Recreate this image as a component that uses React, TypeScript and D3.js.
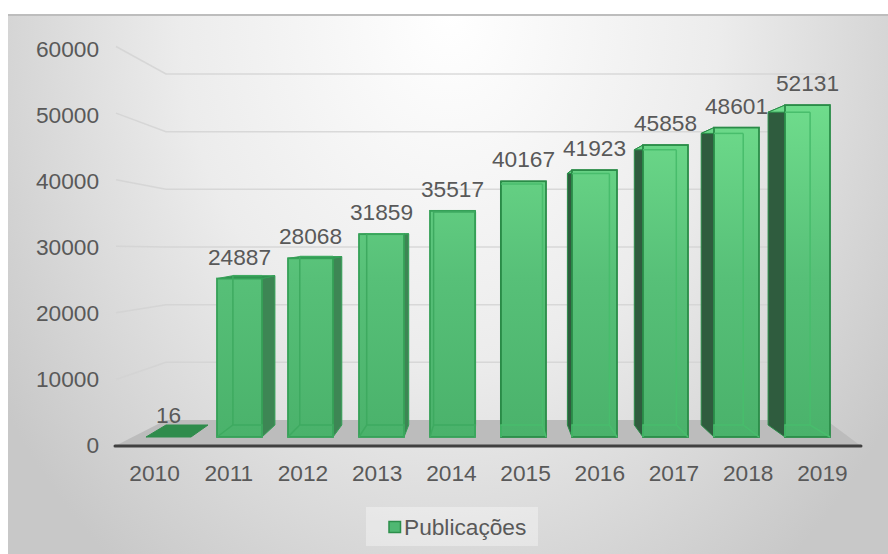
import React from "react";
import * as d3 from "d3";

const years = ["2010","2011","2012","2013","2014","2015","2016","2017","2018","2019"];
const publications = [16,24887,28068,31859,35517,40167,41923,45858,48601,52131];
const axisTicks = [0,10000,20000,30000,40000,50000,60000];
const seriesName = "Publicações";

const W = 888, H = 554;
const FONT = "'Liberation Sans', Arial, sans-serif";

// Wall planes of the 3D plot box
const wallFrontY = d3.scaleLinear().domain([0,60000]).range([446,46.5]);
const wallBackY = d3.scaleLinear().domain([0,60000]).range([420,74]);
const wallBackLeft = 166, wallBackRight = 826, wallFrontLeft = 115, wallFrontRight = 861;

// Front and back faces of the bars
const barFrontX = d3.scaleBand().domain(years).range([133,843]).paddingInner(0.366).paddingOuter(0.183);
const barBackX = d3.scaleBand().domain(years).range([153.55,822.55]).paddingInner(0.372).paddingOuter(0.186);
const barFrontY = d3.scaleLinear().domain([0,60000]).range([437,55]);
const barBackY = d3.scaleLinear().domain([0,60000]).range([425,65]);

const tickX = d3.scaleBand().domain(years).range([117.5,859.5]);
const tickLabelY = d3.scaleLinear().domain([0,60000]).range([453,57]);

const poly = (pts: [number, number][]) => d3.line()(pts) + "Z";

function Bar({ year, value }: { year: string; value: number }) {
  const fx0 = barFrontX(year)!, fx1 = fx0 + barFrontX.bandwidth();
  const bx0 = barBackX(year)!, bx1 = bx0 + barBackX.bandwidth();
  const ft = barFrontY(value), fb = barFrontY(0);
  const bt = barBackY(value), bb = barBackY(0);
  const shift = bx0 - fx0;
  if (value < 100) {
    return <path d={poly([[fx0,fb],[fx1,fb],[bx1,bb],[bx0,bb]])} fill="#2f8c4c" stroke="#2f8c4c" strokeWidth={1} />;
  }
  // Bars left of the view centre show their right flank, the others their left flank
  const side: [number, number][] = shift > 0
    ? [[fx1,ft],[bx1,bt],[bx1,bb],[fx1,fb]]
    : [[fx0,ft],[bx0,bt],[bx0,bb],[fx0,fb]];
  const sideFill = shift > 0 ? "#3d8654" : "#2f5c3e";
  const edge = shift > 0 ? "#35a057" : "#2a8c48";
  const inner = shift > 0 ? "#3eaa60" : "#48bd6c";
  return (
    <g>
      <path d={poly(side)} fill={sideFill} stroke={edge} strokeWidth={1} />
      <path d={poly([[fx0,ft],[fx1,ft],[bx1,bt],[bx0,bt]])} fill={shift > 0 ? "#2f8f4e" : "url(#barFace)"} stroke={edge} strokeWidth={1} />
      <rect x={fx0} y={ft} width={fx1-fx0} height={fb-ft} fill="url(#barFace)" stroke={edge} strokeWidth={1.8} />
      <path d={d3.line()([[Math.max(bx0,fx0),bt],[bx1 > fx1 ? fx1 : bx1,bt]])!} fill="none" stroke={inner} strokeWidth={1.5} />
      {bx0 > fx0 && <line x1={bx0} x2={bx0} y1={bt} y2={bb} stroke={inner} strokeWidth={1.5} />}
      {bx1 < fx1 && <line x1={bx1} x2={bx1} y1={bt} y2={bb} stroke={inner} strokeWidth={1.5} />}
      <path d={d3.line()([[fx0,fb],[bx0 > fx0 ? bx0 : fx0,bb],[bx1 < fx1 ? bx1 : fx1,bb],[fx1,fb]])!} fill="none" stroke={inner} strokeWidth={1.5} />
    </g>
  );
}

export default function App() {
  return (
    <svg width={W} height={H} viewBox={`0 0 ${W} ${H}`} style={{ position: "absolute", left: 0, top: 0, background: "#fff" }}>
      <defs>
        <radialGradient id="panel" gradientUnits="userSpaceOnUse" cx={0} cy={0} r={1}
          gradientTransform="translate(450 14) scale(540 700)">
          <stop offset="0" stopColor="#ffffff" />
          <stop offset="0.5" stopColor="#ececec" />
          <stop offset="1" stopColor="#c8c8c8" />
        </radialGradient>
        <linearGradient id="barFace" gradientUnits="userSpaceOnUse" x1={0} y1={105} x2={0} y2={437}>
          <stop offset="0" stopColor="#6fdc8c" />
          <stop offset="0.52" stopColor="#57c078" />
          <stop offset="1" stopColor="#4ab26b" />
        </linearGradient>
      </defs>

      <rect x={8} y={14} width={W-8} height={H-14} fill="url(#panel)" />
      <line x1={8} x2={W} y1={15} y2={15} stroke="#bdbdbd" strokeWidth={2} />

      <path d={poly([[wallFrontLeft,446],[wallFrontRight,446],[wallBackRight,420],[wallBackLeft,420]])} fill="#bcbcbc" />

      {axisTicks.filter(t => t > 0).map(t => (
        <path key={t}
          d={d3.line()([[116,wallFrontY(t)],[wallBackLeft,wallBackY(t)],[wallBackRight,wallBackY(t)]])!}
          fill="none" stroke="#d2d2d2" strokeOpacity={0.8} strokeWidth={1.5} />
      ))}

      {years.map((y,i) => <Bar key={y} year={y} value={publications[i]} />)}

      <line x1={wallFrontLeft} x2={wallFrontRight} y1={446} y2={446} stroke="#404040" strokeWidth={3} strokeLinecap="round" />

      <g fontFamily={FONT} fontSize={22.7} fill="#595959">
        {axisTicks.map(t => (
          <text key={t} x={99} y={tickLabelY(t)} textAnchor="end">{t}</text>
        ))}
        {years.map(y => (
          <text key={y} x={tickX(y)! + tickX.bandwidth()/2} y={481} textAnchor="middle">{y}</text>
        ))}
        {years.map((y,i) => (
          <text key={y} x={barFrontX(y)! + barFrontX.bandwidth()/2} y={barFrontY(publications[i]) - 14} textAnchor="middle">{publications[i]}</text>
        ))}
      </g>

      <rect x={366} y={507} width={172} height={39} fill="#ffffff" fillOpacity={0.35} />
      <rect x={389} y={521.5} width={11.5} height={11} fill="#4fb872" stroke="#2c8f4b" strokeWidth={1.5} />
      <text x={404} y={535} fontFamily={FONT} fontSize={22.7} fill="#595959">{seriesName}</text>
    </svg>
  );
}
